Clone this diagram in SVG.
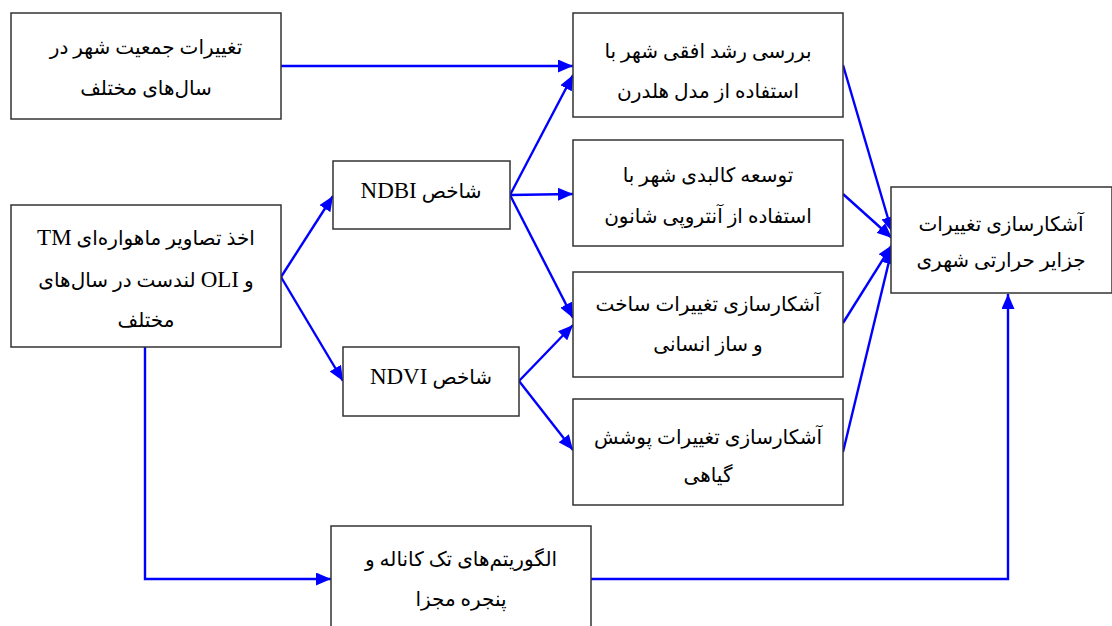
<svg xmlns="http://www.w3.org/2000/svg" width="1112" height="626" viewBox="0 0 1112 626">
<style>
.box{fill:#fff;stroke:#333;stroke-width:1.5}
.t{font-family:"Liberation Serif","DejaVu Sans",serif;font-size:20px;fill:#000;text-anchor:middle;direction:rtl}
.l{font-size:23px}
.c{fill:none;stroke:#0000ff;stroke-width:2.4}
</style>
<defs>
<marker id="ah" viewBox="0 0 15 13" refX="15" refY="6.5" markerWidth="15" markerHeight="13" markerUnits="userSpaceOnUse" orient="auto">
<path d="M0,0 L15,6.5 L0,13 z" fill="#0000ff"/>
</marker>
</defs>
<rect width="1112" height="626" fill="#fff"/>
<g id="connectors">
<line class="c" x1="281" y1="66" x2="573" y2="66" marker-end="url(#ah)"/>
<line class="c" x1="281" y1="277" x2="333" y2="196" marker-end="url(#ah)"/>
<line class="c" x1="281" y1="277" x2="343" y2="381" marker-end="url(#ah)"/>
<line class="c" x1="510" y1="195" x2="573" y2="75" marker-end="url(#ah)"/>
<line class="c" x1="510" y1="195" x2="573" y2="194" marker-end="url(#ah)"/>
<line class="c" x1="510" y1="195" x2="573" y2="318" marker-end="url(#ah)"/>
<line class="c" x1="519" y1="381" x2="573" y2="325" marker-end="url(#ah)"/>
<line class="c" x1="519" y1="381" x2="573" y2="450" marker-end="url(#ah)"/>
<line class="c" x1="843" y1="65" x2="892" y2="232" marker-end="url(#ah)"/>
<line class="c" x1="843" y1="194" x2="892" y2="238" marker-end="url(#ah)"/>
<line class="c" x1="843" y1="323" x2="892" y2="245" marker-end="url(#ah)"/>
<line class="c" x1="843" y1="452" x2="892" y2="249" marker-end="url(#ah)"/>
<polyline class="c" points="145,347 145,579 331,579" marker-end="url(#ah)"/>
<polyline class="c" points="591,579 1008,579 1008,294" marker-end="url(#ah)"/>
</g>
<g id="n1"><rect class="box" x="11" y="13" width="270" height="106"/>
<text class="t" x="146" y="54">تغییرات جمعیت شهر در</text>
<text class="t" x="146" y="95">سال‌های مختلف</text></g>
<g id="n2"><rect class="box" x="11" y="205" width="270" height="142"/>
<text class="t" x="146" y="245">اخذ تصاویر ماهواره‌ای <tspan class="l">TM</tspan></text>
<text class="t" x="146" y="287">و <tspan class="l">OLI</tspan> لندست در سال‌های</text>
<text class="t" x="146" y="327">مختلف</text></g>
<g id="n3"><rect class="box" x="333" y="161" width="177" height="68"/>
<text class="t" x="421" y="198">شاخص <tspan class="l">NDBI</tspan></text></g>
<g id="n4"><rect class="box" x="343" y="347" width="176" height="69"/>
<text class="t" x="431" y="384">شاخص <tspan class="l">NDVI</tspan></text></g>
<g id="n5"><rect class="box" x="573" y="13" width="270" height="104"/>
<text class="t" x="708" y="58">بررسی رشد افقی شهر با</text>
<text class="t" x="708" y="98">استفاده از مدل هلدرن</text></g>
<g id="n6"><rect class="box" x="573" y="140" width="270" height="106"/>
<text class="t" x="708" y="182">توسعه کالبدی شهر با</text>
<text class="t" x="708" y="223">استفاده از آنتروپی شانون</text></g>
<g id="n7"><rect class="box" x="573" y="272" width="270" height="105"/>
<text class="t" x="708" y="311">آشکارسازی تغییرات ساخت</text>
<text class="t" x="708" y="351">و ساز انسانی</text></g>
<g id="n8"><rect class="box" x="573" y="399" width="270" height="106"/>
<text class="t" x="708" y="444">آشکارسازی تغییرات پوشش</text>
<text class="t" x="708" y="482">گیاهی</text></g>
<g id="n9"><rect class="box" x="891" y="187" width="221" height="106"/>
<text class="t" x="1001" y="231">آشکارسازی تغییرات</text>
<text class="t" x="1001" y="267">جزایر حرارتی شهری</text></g>
<g id="n10"><rect class="box" x="331" y="526" width="260" height="110"/>
<text class="t" x="461" y="566">الگوریتم‌های تک کاناله و</text>
<text class="t" x="461" y="606">پنجره مجزا</text></g>
</svg>
